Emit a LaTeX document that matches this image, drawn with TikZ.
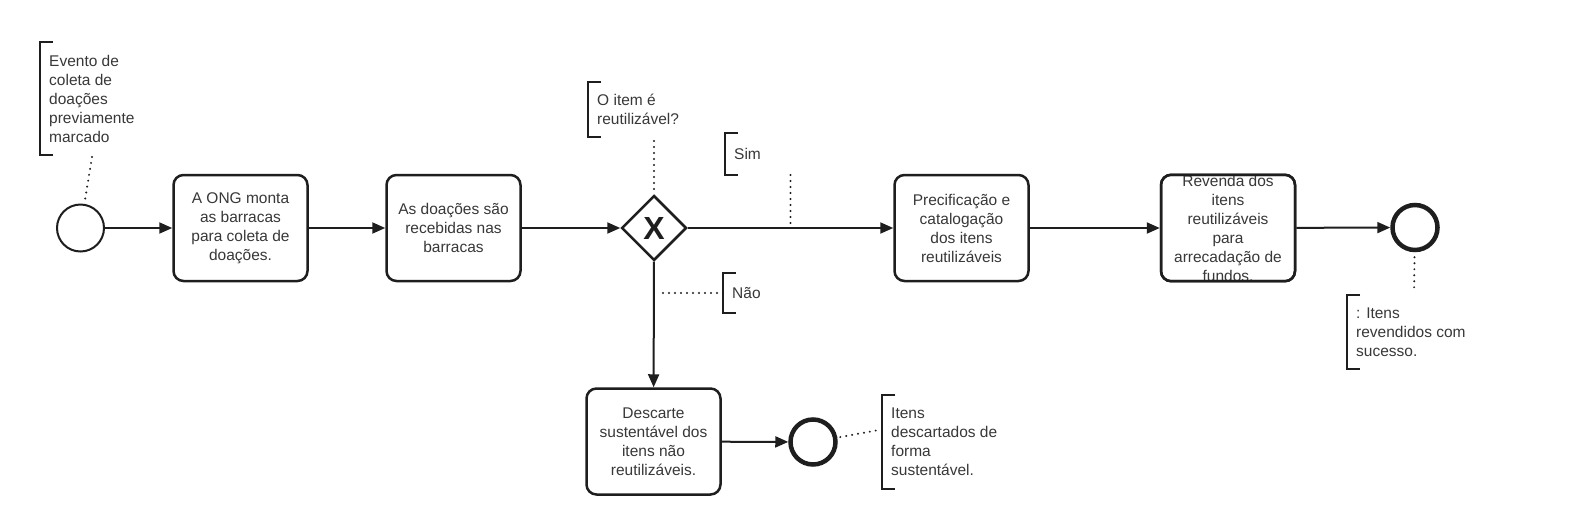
\documentclass[tikz,border=0pt]{standalone}
\usepackage{fontspec}
\setmainfont{Liberation Sans}
\usetikzlibrary{arrows.meta,calc,shapes.geometric}
\definecolor{ink}{HTML}{1E1E1E}
\definecolor{txt}{HTML}{383838}
\begin{document}
\begin{tikzpicture}[x=1pt,y=-1pt,
  every node/.style={font=\fontsize{15.5}{19}\selectfont, text=txt},
  task/.style={draw=ink, line width=2.5pt, rounded corners=10pt, minimum width=134pt, minimum height=106pt, align=center, inner sep=0pt, fill=white},
  startev/.style={circle, draw=ink, line width=2pt, minimum size=47pt, inner sep=0pt},
  endev/.style={circle, draw=ink, line width=4.5pt, minimum size=45pt, inner sep=0pt},
  gate/.style={diamond, aspect=1, draw=ink, line width=2.5pt, minimum size=65pt, inner sep=0pt, text=ink, font=\bfseries\fontsize{32}{32}\selectfont},
  flow/.style={draw=ink, line width=2pt, -{Triangle[length=13pt,width=11pt]}},
  assoc/.style={draw=ink, line width=2.2pt, dash pattern=on 0pt off 6pt, line cap=round},
  annot/.style={align=left, anchor=west, inner xsep=9pt, inner ysep=0pt},
  bracket/.style={draw=ink, line width=2pt}
]
\fill[white] (0,0) rectangle (1577,531);
\useasboundingbox (0,0) rectangle (1577,531);

% events, tasks, gateway
\node[startev] (start) at (80.5,228) {};
\node[task] (t1) at (240.5,228) {A ONG monta\\as barracas\\para coleta de\\doações.};
\node[task] (t2) at (453.5,228) {As doações são\\recebidas nas\\barracas};
\node[gate] (gw) at (654,228) {X};
\node[task] (t3) at (961.5,228) {Precificação e\\catalogação\\dos itens\\reutilizáveis};
\node[task] (t4) at (1228,228) {Revenda dos\\itens\\reutilizáveis\\para\\arrecadação de\\fundos.};
\node[endev] (e1) at (1415,227.5) {};
\node[task] (t5) at (653.5,441.5) {Descarte\\sustentável dos\\itens não\\reutilizáveis.};
\node[endev] (e2) at (813,442) {};

% redraw task4 border over its overflowing text
\draw[draw=ink, line width=2.5pt, rounded corners=10pt]
  ([shift={(1.25,-1.25)}]t4.south west) rectangle ([shift={(-1.25,1.25)}]t4.north east);

% flows
\draw[flow] (start) -- (t1);
\draw[flow] (t1) -- (t2);
\draw[flow] (t2) -- (gw);
\draw[flow] (gw) -- (t3);
\draw[flow] (t3) -- (t4);
\draw[flow] (t4) -- (e1);
\draw[flow] (gw) -- (t5);
\draw[flow] (t5) -- (e2);

% annotations
\node[annot, minimum height=113pt] (a1) at (40,98.5) {Evento de\\coleta de\\doações\\previamente\\marcado};
\node[annot, minimum height=55pt] (a2) at (588,109.5) {O item é\\reutilizável?};
\node[annot, minimum height=42pt] (asim) at (725,154) {Sim};
\node[annot, minimum height=40pt] (anao) at (723,293) {Não};
\node[annot, minimum height=74pt] (a5) at (1347,332) {: Itens\\revendidos com\\sucesso.};
\node[annot, minimum height=94pt] (a6) at (882,442) {Itens\\descartados de\\forma\\sustentável.};

\foreach \n in {a1,a2,asim,anao,a5,a6}{
  \draw[bracket] ($(\n.north west)+(13,0)$) -- (\n.north west) -- (\n.south west) -- ++(13,0);
}

% associations
\coordinate (a1p) at (92,157);
\draw[assoc, shorten >=5pt] (a1p) -- (start);
\coordinate (a2p) at (654,141);
\draw[assoc, shorten >=3pt] (a2p) -- (gw.north);
\coordinate (simB) at ($(gw.east)!0.5!(t3.west)$);
\coordinate (simA) at ($(simB)+(0,-55)$);
\draw[assoc, shorten <=5pt] (simB) -- (simA);
\draw[assoc, shorten >=6pt] (anao.west) -- (anao.west -| gw);
\coordinate (a5p) at (1414,293);
\draw[assoc, shorten <=5pt] (e1) -- (a5p);
\coordinate (a6p) at (879,430);
\draw[assoc, shorten <=3pt] (e2) -- (a6p);
\end{tikzpicture}
\end{document}
